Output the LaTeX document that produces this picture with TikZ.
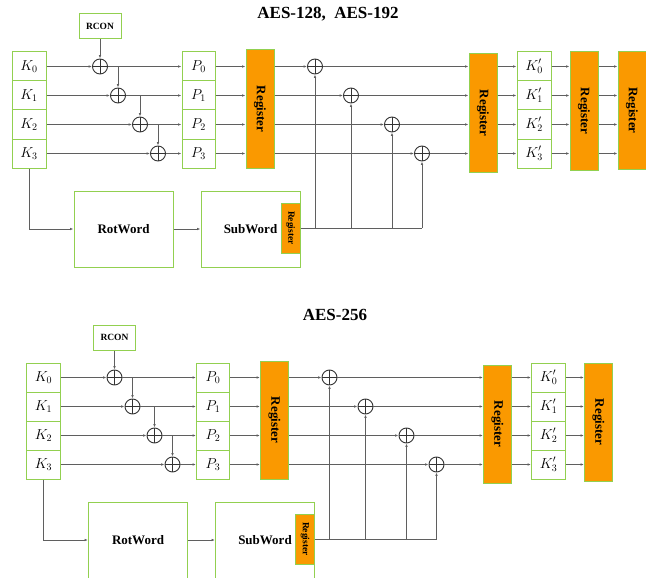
\documentclass[tikz,border=0pt]{standalone}
\usepackage{fontspec}
\usepackage{graphicx}
\setmainfont{Liberation Serif}
\usepackage{tikz}
\usetikzlibrary{arrows.meta,positioning}
\definecolor{boxgreen}{RGB}{146,208,80}
\definecolor{regorange}{RGB}{250,153,0}
\definecolor{wiregray}{RGB}{95,95,95}

\begin{document}
\begin{tikzpicture}[x=1pt, y=-1pt, >={Latex[length=3.5pt,width=2.6pt]},
  box/.style={draw=boxgreen, line width=1pt, fill=white, inner sep=0pt},
  word/.style={box, minimum width=34pt, minimum height=29pt, font=\fontsize{14.5}{16}\selectfont},
  reg/.style={draw=boxgreen, line width=1pt, fill=regorange, inner sep=0pt, minimum width=28pt, minimum height=118pt, font=\fontsize{13}{15}\selectfont\bfseries},
  xor/.style={circle, draw=black!80, line width=0.9pt, minimum size=15pt, inner sep=0pt,
    path picture={\draw[black!80, line width=0.9pt] (path picture bounding box.north) -- (path picture bounding box.south)
      (path picture bounding box.west) -- (path picture bounding box.east);}},
  wire/.style={draw=wiregray, line width=0.75pt},
  title/.style={font=\fontsize{17}{20}\selectfont\bfseries}]
  \path[use as bounding box, clip] (0,0) rectangle (646,578);
  \node[title] (t1) at (328,14) {AES-128,\ \ AES-192};
  \node[title] (t2) at (335,315) {AES-256};
  \foreach \s/\dx/\dy in {a/0/0, b/14.5/311} {
    \begin{scope}[shift={(\dx,\dy)}, name prefix=\s-]
      \node[box, minimum width=42pt, minimum height=25pt, font=\fontsize{9.5}{11}\selectfont\bfseries] (rcon) at (100,26.5) {RCON};
      \node[reg] (r1) at (260,109) {\rotatebox{-90}{Register}};
      \node[reg] (r2) at (483,113) {\rotatebox{-90}{Register}};
      \node[reg] (r3) at (584,111) {\rotatebox{-90}{Register}};
      \node[box, minimum width=99pt, minimum height=76pt, font=\fontsize{13}{15}\selectfont\bfseries] (rot) at (123.5,229) {RotWord};
      \node[box, minimum width=99pt, minimum height=76pt, font=\fontsize{13}{15}\selectfont\bfseries] (sub) at (250.5,229) {SubWord};
      \node[reg, minimum width=19pt, minimum height=50pt, font=\fontsize{9.5}{11}\selectfont\bfseries] (sreg) at (290.5,228) {\rotatebox{-90}{Register}};
      \foreach \i/\xl/\xr in {0/100/315, 1/118/351, 2/140/392, 3/158/422} {
        \node[word] (k\i) at (29,66.5+29*\i) {$K_\i$};
        \node[word, minimum width=33pt] (p\i) at (198.5,66.5+29*\i) {$P_\i$};
        \node[word] (kk\i) at (534,66.5+29*\i) {$K'_\i$};
        \node[xor] (xl\i) at (\xl,66.5+29*\i) {};
        \node[xor] (xr\i) at (\xr,66.5+29*\i) {};
      }
      \foreach \i in {0,...,3} {
        \draw[wire, ->] (k\i) -- (xl\i);
        \draw[wire, ->] (xl\i) -- (p\i);
        \draw[wire, ->] (p\i) -- (p\i -| r1.west);
        \draw[wire, ->] (xr\i -| r1.east) -- (xr\i);
        \draw[wire, ->] (xr\i) -- (xr\i -| r2.west);
        \draw[wire, ->] (kk\i -| r2.east) -- (kk\i);
        \draw[wire, ->] (kk\i) -- (kk\i -| r3.west);
        \draw[wire, ->] (xr\i |- sreg.east) -- (xr\i);
      }
      \foreach \i/\j in {0/1, 1/2, 2/3}
        \draw[wire, ->] (xl\i -| xl\j) -- (xl\j);
      \draw[wire, ->] (rcon) -- (xl0);
      \draw[wire, ->] (k3.south) |- (rot.west);
      \draw[wire, ->] (rot) -- (sub);
      \draw[wire] (sreg.east) -- (sreg.east -| xr3);
    \end{scope}
  }
  \node[reg] (a-r4) at (632,110.5) {\rotatebox{-90}{Register}};
  \foreach \i in {0,...,3}
    \draw[wire, ->] (a-kk\i -| a-r3.east) -- (a-kk\i -| a-r4.west);
\end{tikzpicture}
\end{document}
